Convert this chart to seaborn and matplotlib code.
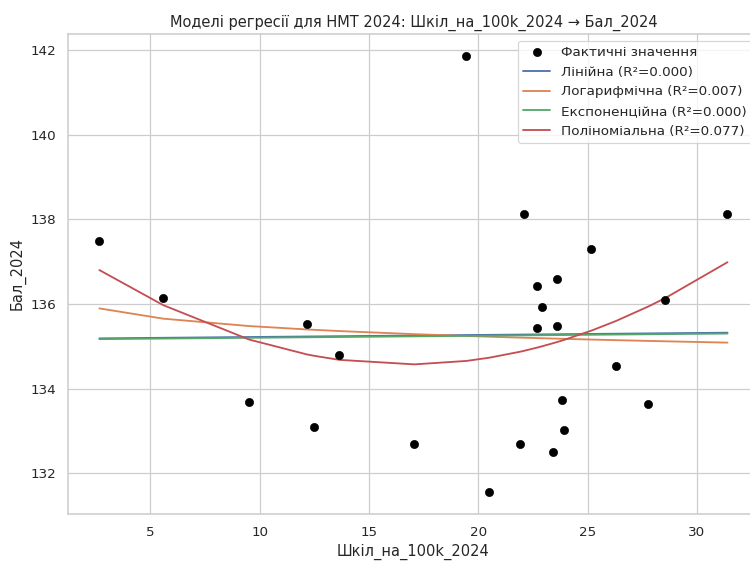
import numpy as np
import pandas as pd
import matplotlib
matplotlib.use("Agg")
import matplotlib.pyplot as plt
import seaborn as sns

sns.set_theme(style="whitegrid")
plt.rcParams['font.family'] = ['DejaVu Sans']

# schools per 100k and NMT score
schools = [2.67, 5.59, 9.52, 12.15, 12.51, 13.65, 17.08, 19.45, 20.5, 21.9,
           22.11, 22.68, 22.68, 22.91, 23.43, 23.6, 23.6, 23.85, 23.9, 25.18,
           26.3, 27.78, 28.56, 31.4]
score = [137.48, 136.14, 133.69, 135.53, 133.08, 134.8, 132.68, 141.87, 131.55, 132.68,
         138.13, 136.43, 135.43, 135.93, 132.5, 136.6, 135.48, 133.72, 133.03, 137.29,
         134.54, 133.63, 136.09, 138.12]

r2_labels = ["Лінійна (R²=0.000)", "Логарифмічна (R²=0.007)",
             "Експоненційна (R²=0.000)", "Поліноміальна (R²=0.077)"]

df = pd.DataFrame({"x": schools, "y": score}).sort_values("x")
x = df["x"].values
y = df["y"].values

# model fits
lin = np.polyval(np.polyfit(x, y, 1), x)
log_c = np.polyfit(np.log(x), y, 1)
logf = np.polyval(log_c, np.log(x))
exp_c = np.polyfit(x, np.log(y), 1)
expf = np.exp(np.polyval(exp_c, x))
poly = np.polyval(np.polyfit(x, y, 2), x)

dpi = 88
fig = plt.figure(figsize=(751 / dpi, 563 / dpi), dpi=dpi)
# the original picture is cut off on the right, so the axes run past the edge
ax = fig.add_axes([0.0905, 0.087, 0.92, 0.853])
sns.scatterplot(data=df, x="x", y="y", color="black", edgecolor="black", s=45,
                label="Фактичні значення", ax=ax, zorder=3)
palette = sns.color_palette()
for fit, lab, c in zip([lin, logf, expf, poly], r2_labels, palette[:4]):
    ax.plot(x, fit, color=c, label=lab, linewidth=1.5)

ax.set_title("Моделі регресії для НМТ 2024: Шкіл_на_100k_2024 → Бал_2024")
ax.set_xlabel("Шкіл_на_100k_2024")
ax.set_ylabel("Бал_2024")
ax.legend(loc="upper right")
plt.savefig("out.png")
